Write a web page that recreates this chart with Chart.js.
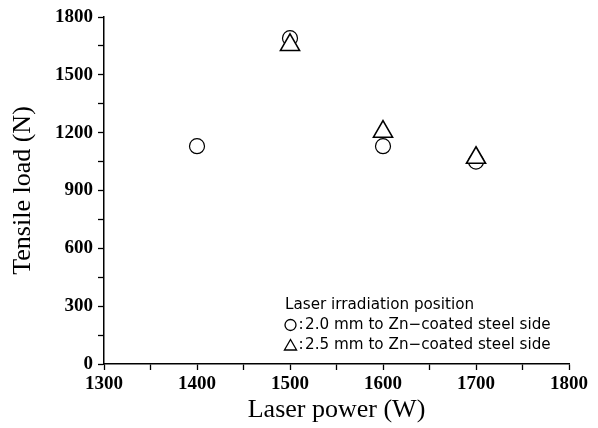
<!DOCTYPE html>
<html>
<head>
<meta charset="utf-8">
<script src="https://cdn.jsdelivr.net/npm/chart.js@4.4.1/dist/chart.umd.min.js"></script>
<style>
  html, body { margin: 0; padding: 0; background: #fff; }
  #wrap { width: 598px; height: 428px; }
</style>
</head>
<body>
<div id="wrap"><canvas id="c"></canvas></div>
<script>
// laser power (W) vs tensile load (N)
const laserPower = [1400, 1500, 1600, 1700];
const load20mm = [1130, 1690, 1130, 1050];
const load25mm = [null, 1655, 1205, 1070];

const xTicks = [1300, 1400, 1500, 1600, 1700, 1800];
const yTicks = [0, 300, 600, 900, 1200, 1500, 1800];

const legendTitle = "Laser irradiation position";
const legendLabels = [
  "2.0 mm to Zn\u2212coated steel side",
  "2.5 mm to Zn\u2212coated steel side",
];

const SERIF = '"Liberation Serif", "Times New Roman", serif';
const SANS = '"DejaVu Sans", "Noto Sans", sans-serif';

function toPoints(xs, ys) {
  return xs.map((x, i) => ({ x, y: ys[i] })).filter((p) => p.y != null);
}

/** legend drawn inside plot area, lower right */
const innerLegend = {
  id: "innerLegend",
  afterDraw(chart) {
    const ctx = chart.ctx;
    ctx.save();
    ctx.fillStyle = "#000";
    ctx.font = "15.2px " + SANS;
    ctx.textBaseline = "middle";
    ctx.textAlign = "left";
    ctx.fillText(legendTitle, 285, 305.5);
    const marks = [
      { pointStyle: "circle", radius: 5.5, dy: 0 },
      { pointStyle: "triangle", radius: 7, dy: 1.5 },
    ];
    const rows = [325, 345];
    marks.forEach((m, i) => {
      ctx.strokeStyle = "#000";
      ctx.fillStyle = "#fff";
      ctx.lineWidth = 1.3;
      Chart.helpers.drawPoint(ctx, { pointStyle: m.pointStyle, radius: m.radius, rotation: 0, borderWidth: 1.3 }, 290.5, rows[i] + m.dy);
      ctx.fillStyle = "#000";
      ctx.fillText(":", 298.5, rows[i]);
      ctx.fillText(legendLabels[i], 305, rows[i]);
    });
    ctx.restore();
  },
};

new Chart(document.getElementById("c"), {
  type: "scatter",
  data: {
    datasets: [
      {
        label: "2.5 mm",
        data: toPoints(laserPower, load25mm),
        pointStyle: "triangle",
        pointRadius: 11,
        pointHoverRadius: 11,
        borderColor: "#000",
        backgroundColor: "#fff",
        borderWidth: 1.6,
        order: 0,
      },
      {
        label: "2.0 mm",
        data: toPoints(laserPower, load20mm),
        pointStyle: "circle",
        pointRadius: 7.5,
        pointHoverRadius: 7.5,
        borderColor: "#000",
        backgroundColor: "#fff",
        borderWidth: 1.2,
        order: 1,
      },
    ],
  },
  options: {
    responsive: true,
    maintainAspectRatio: false,
    animation: false,
    layout: { padding: { left: 0, right: 29, top: 17, bottom: 0 } },
    plugins: {
      legend: { display: false },
      tooltip: { enabled: false },
    },
    scales: {
      x: {
        type: "linear",
        min: xTicks[0],
        max: xTicks[xTicks.length - 1],
        afterFit(scale) { scale.height = 64; },
        afterBuildTicks(scale) {
          const t = [];
          for (let v = xTicks[0]; v <= xTicks[xTicks.length - 1]; v += 50) t.push({ value: v });
          scale.ticks = t;
        },
        ticks: {
          autoSkip: false,
          maxRotation: 0,
          padding: 3,
          color: "#000",
          font: { family: SERIF, size: 19, weight: "bold" },
          callback: (v) => (xTicks.includes(v) ? String(v) : ""),
        },
        grid: {
          drawOnChartArea: false,
          drawTicks: true,
          tickLength: 6,
          tickColor: "#000",
          tickWidth: 1.3,
        },
        border: { display: true, color: "#000", width: 1.5 },
        title: {
          display: true,
          text: "Laser power (W)",
          color: "#000",
          font: { family: SERIF, size: 26 },
          padding: { top: 0, bottom: 2 },
        },
      },
      y: {
        type: "linear",
        min: yTicks[0],
        max: yTicks[yTicks.length - 1],
        afterFit(scale) { scale.width = 104; },
        afterBuildTicks(scale) {
          const t = [];
          for (let v = yTicks[0]; v <= yTicks[yTicks.length - 1]; v += 150) t.push({ value: v });
          scale.ticks = t;
        },
        ticks: {
          autoSkip: false,
          padding: 5,
          color: "#000",
          font: { family: SERIF, size: 19, weight: "bold" },
          callback: (v) => (yTicks.includes(v) ? String(v) : ""),
        },
        grid: {
          drawOnChartArea: false,
          drawTicks: true,
          tickLength: 6,
          tickColor: "#000",
          tickWidth: 1.3,
        },
        border: { display: true, color: "#000", width: 1.5 },
        title: {
          display: true,
          text: "Tensile load (N)",
          color: "#000",
          font: { family: SERIF, size: 26 },
          padding: { top: 8, bottom: 0 },
        },
      },
    },
  },
  plugins: [innerLegend],
});
</script>
</body>
</html>
